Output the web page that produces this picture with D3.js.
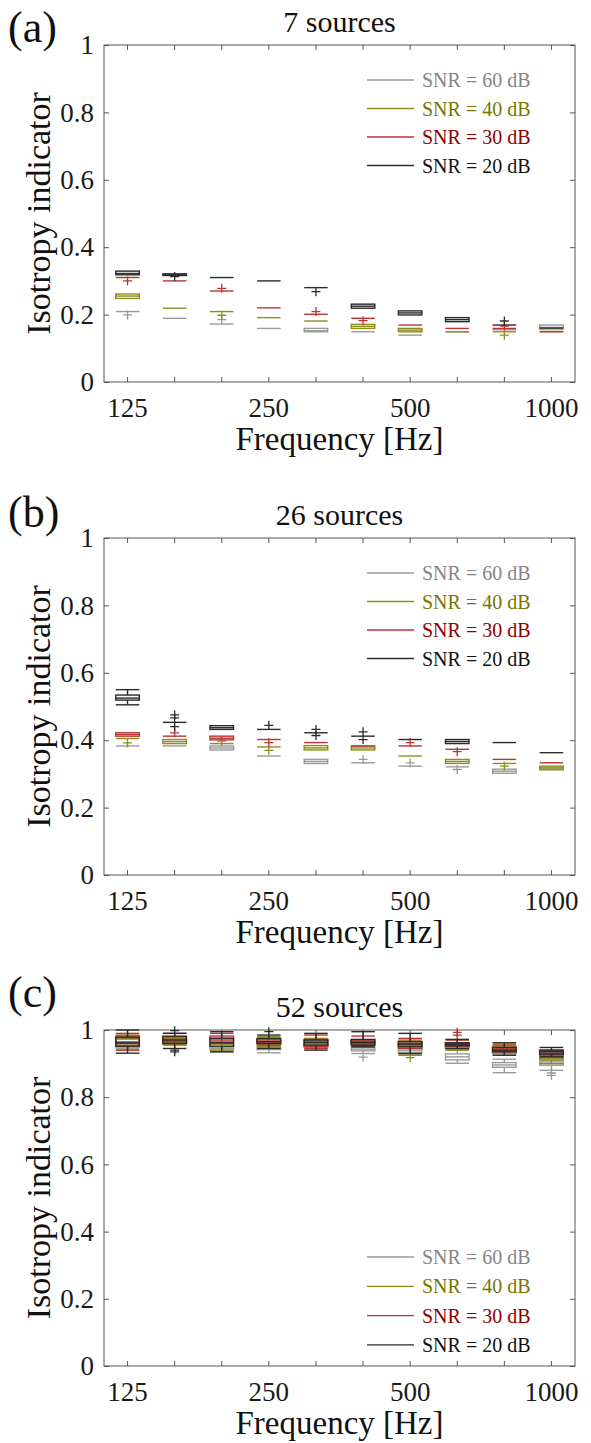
<!DOCTYPE html>
<html>
<head>
<meta charset="utf-8">
<script src="https://cdn.jsdelivr.net/npm/d3@7"></script>
<style>
  body { margin: 0; background: #fff; }
  svg { display: block; }
  svg text { font-family: "Liberation Serif", "Times New Roman", serif; }
</style>
</head>
<body>
<div id="chart"></div>
<script>
// 1/3-octave bands and which of them carry a label
const freqs = ["125", "160", "200", "250", "315", "400", "500", "630", "800", "1000"];
const labelledFreqs = ["125", "250", "500", "1000"];
const yTicks = [0, 0.2, 0.4, 0.6, 0.8, 1];
const snrLabels = ["SNR = 60 dB", "SNR = 40 dB", "SNR = 30 dB", "SNR = 20 dB"];
const panelTitles = ["7 sources", "26 sources", "52 sources"];
const panelTags = ["(a)", "(b)", "(c)"];

// each box: [whiskerLow, q1, median, q3, whiskerHigh], or one number when it collapses
// outliers: [bandIndex, value]
const boxesA60 = [0.209, 0.189, 0.172, 0.159, [0.149, 0.149, 0.152, 0.159, 0.159], 0.149, 0.139, 0.149, 0.155, [0.157, 0.157, 0.162, 0.169, 0.169]];
const outliersA60 = [[0, 0.199], [2, 0.185]];
const boxesA40 = [[0.248, 0.248, 0.255, 0.261, 0.261], 0.219, 0.209, 0.191, 0.181, [0.159, 0.159, 0.165, 0.171, 0.171], [0.149, 0.149, 0.154, 0.159, 0.159], 0.149, 0.149, 0.150];
const outliersA40 = [[2, 0.198], [8, 0.139]];
const boxesA30 = [0.310, 0.300, 0.270, 0.220, 0.201, 0.189, 0.169, 0.159, 0.159, 0.149];
const outliersA30 = [[0, 0.300], [2, 0.278], [4, 0.209], [5, 0.182], [8, 0.166]];
const boxesA20 = [[0.318, 0.318, 0.322, 0.329, 0.329], [0.316, 0.316, 0.318, 0.321, 0.321], 0.310, 0.300, 0.280, [0.219, 0.219, 0.225, 0.231, 0.231], [0.199, 0.199, 0.205, 0.211, 0.211], [0.179, 0.179, 0.185, 0.191, 0.191], 0.169, 0.160];
const outliersA20 = [[1, 0.313], [4, 0.268], [8, 0.181]];

const boxesB60 = [0.383, 0.383, [0.371, 0.371, 0.377, 0.383, 0.383], 0.353, [0.331, 0.331, 0.337, 0.343, 0.343], 0.333, 0.323, 0.321, [0.302, 0.302, 0.308, 0.314, 0.314], 0.315];
const outliersB60 = [[5, 0.343], [6, 0.333], [7, 0.313]];
const boxesB40 = [0.405, [0.390, 0.390, 0.396, 0.402, 0.402], 0.390, 0.380, [0.371, 0.371, 0.377, 0.384, 0.384], [0.371, 0.371, 0.377, 0.383, 0.383], 0.353, [0.331, 0.331, 0.337, 0.343, 0.343], 0.331, [0.312, 0.312, 0.318, 0.323, 0.323]];
const outliersB40 = [[0, 0.392], [2, 0.397], [3, 0.370], [8, 0.323]];
const boxesB30 = [[0.412, 0.412, 0.417, 0.422, 0.422], 0.412, [0.401, 0.401, 0.406, 0.412, 0.412], 0.402, 0.393, 0.383, 0.383, 0.373, 0.343, 0.333];
const outliersB30 = [[1, 0.422], [3, 0.393], [6, 0.393], [7, 0.366]];
const boxesB20 = [[0.505, 0.519, 0.525, 0.534, 0.550], 0.453, [0.432, 0.432, 0.437, 0.443, 0.443], 0.432, 0.422, 0.412, 0.402, [0.390, 0.390, 0.396, 0.402, 0.402], 0.393, 0.363];
const outliersB20 = [[1, 0.475], [1, 0.466], [1, 0.440], [3, 0.444], [4, 0.432], [4, 0.414], [5, 0.425], [5, 0.402]];

const boxesC60 = [[0.945, 0.955, 0.965, 0.972, 0.98], [0.955, 0.96, 0.968, 0.975, 0.98], [0.935, 0.94, 0.945, 0.95, 0.96], [0.932, 0.942, 0.947, 0.952, 0.955], [0.945, 0.95, 0.955, 0.96, 0.965], [0.93, 0.938, 0.943, 0.948, 0.955], [0.925, 0.932, 0.938, 0.944, 0.95], [0.901, 0.911, 0.92, 0.929, 0.94], [0.873, 0.889, 0.896, 0.903, 0.913], [0.88, 0.895, 0.9, 0.905, 0.91]];
const outliersC60 = [[5, 0.919], [9, 0.872], [9, 0.865]];
const boxesC40 = [[0.94, 0.955, 0.965, 0.975, 0.985], [0.955, 0.958, 0.963, 0.968, 0.975], [0.94, 0.95, 0.958, 0.965, 0.975], [0.95, 0.957, 0.965, 0.972, 0.98], [0.95, 0.955, 0.965, 0.97, 0.975], [0.95, 0.955, 0.96, 0.965, 0.97], [0.925, 0.945, 0.952, 0.96, 0.97], [0.94, 0.945, 0.95, 0.955, 0.96], [0.925, 0.931, 0.94, 0.95, 0.958], [0.9, 0.911, 0.916, 0.921, 0.93]];
const outliersC40 = [[6, 0.918]];
const boxesC30 = [[0.94, 0.95, 0.96, 0.982, 0.99], [0.96, 0.965, 0.972, 0.982, 0.99], [0.96, 0.97, 0.975, 0.982, 0.99], [0.955, 0.96, 0.965, 0.97, 0.975], [0.945, 0.95, 0.962, 0.972, 0.985], [0.955, 0.96, 0.965, 0.97, 0.982], [0.945, 0.955, 0.96, 0.966, 0.975], [0.945, 0.952, 0.957, 0.962, 0.97], [0.935, 0.94, 0.944, 0.948, 0.955], [0.92, 0.925, 0.93, 0.935, 0.94]];
const outliersC30 = [[7, 0.985], [7, 0.993]];
const boxesC20 = [[0.931, 0.952, 0.962, 0.978, 1.0], [0.945, 0.96, 0.97, 0.98, 0.99], [0.935, 0.952, 0.962, 0.975, 0.995], [0.945, 0.96, 0.965, 0.975, 0.985], [0.94, 0.955, 0.963, 0.97, 0.99], [0.95, 0.955, 0.963, 0.972, 0.995], [0.93, 0.95, 0.958, 0.965, 0.99], [0.945, 0.953, 0.958, 0.962, 0.972], [0.925, 0.935, 0.94, 0.948, 0.962], [0.92, 0.928, 0.935, 0.94, 0.948]];
const outliersC20 = [[1, 0.998], [1, 0.94], [1, 0.935], [3, 0.995]];

const lineColors = ["#9a9a9a", "#8e8e1c", "#bb3434", "#2b2b2b"];
const textColors = ["#858585", "#767600", "#8e0000", "#111111"];

const W = 591, H = 1443;
const svg = d3.select("#chart").append("svg")
  .attr("width", W).attr("height", H);
svg.append("rect").attr("width", W).attr("height", H).attr("fill", "#fff");

const plotLeft = 104, plotRight = 575;

const panels = [
  { top: 45, bottom: 382, tagY: 42, series: [[boxesA60, outliersA60], [boxesA40, outliersA40], [boxesA30, outliersA30], [boxesA20, outliersA20]], legendTop: true },
  { top: 538, bottom: 875, tagY: 527, series: [[boxesB60, outliersB60], [boxesB40, outliersB40], [boxesB30, outliersB30], [boxesB20, outliersB20]], legendTop: true },
  { top: 1030, bottom: 1366, tagY: 1007, series: [[boxesC60, outliersC60], [boxesC40, outliersC40], [boxesC30, outliersC30], [boxesC20, outliersC20]], legendTop: false }
];

panels.forEach((p, pi) => drawPanel(p, pi));

function drawPanel(p, pi) {
  const x = d3.scaleBand().domain(freqs).range([plotLeft, plotRight]).padding(0);
  const y = d3.scaleLinear().domain([0, 1]).range([p.bottom, p.top]);
  const bw = x.bandwidth();
  const half = bw * 0.25;
  const cx = f => x(f) + bw / 2;

  const g = svg.append("g");

  // axes, ticks pointing inward
  const bottomAxis = g.append("g")
    .attr("transform", `translate(0,${p.bottom})`)
    .call(d3.axisBottom(x).tickSizeInner(-5).tickSizeOuter(0).tickPadding(16)
      .tickFormat(d => labelledFreqs.includes(d) ? d : ""));
  g.append("g")
    .attr("transform", `translate(0,${p.top})`)
    .call(d3.axisTop(x).tickSizeInner(-5).tickSizeOuter(0).tickFormat(""));
  const leftAxis = g.append("g")
    .attr("transform", `translate(${plotLeft},0)`)
    .call(d3.axisLeft(y).tickValues(yTicks).tickSizeInner(-5).tickSizeOuter(0).tickPadding(10)
      .tickFormat(d => String(d)));
  g.append("g")
    .attr("transform", `translate(${plotRight},0)`)
    .call(d3.axisRight(y).tickValues(yTicks).tickSizeInner(-5).tickSizeOuter(0).tickFormat(""));

  g.selectAll(".domain").remove();
  g.selectAll(".tick line").attr("stroke", "#555");
  [bottomAxis, leftAxis].forEach(a => {
    a.attr("font-family", null).attr("font-size", null);
    a.selectAll("text").attr("font-size", 27).attr("fill", "#1a1a1a");
  });

  g.append("rect")
    .attr("x", plotLeft).attr("y", p.top)
    .attr("width", plotRight - plotLeft).attr("height", p.bottom - p.top)
    .attr("fill", "none").attr("stroke", "#555").attr("stroke-width", 1);

  // boxes, drawn 60 dB first so 20 dB lies on top
  p.series.forEach(([boxes, outliers], si) => {
    const col = lineColors[si];
    const sg = g.append("g").attr("stroke", col).attr("fill", "none").attr("stroke-width", 1.4);
    boxes.forEach((b, i) => {
      const v = typeof b === "number" ? [b, b, b, b, b] : b;
      const [lo, q1, med, q3, hi] = v;
      const c = cx(freqs[i]);
      if (hi > q3) sg.append("line").attr("x1", c).attr("x2", c).attr("y1", y(hi)).attr("y2", y(q3));
      if (lo < q1) sg.append("line").attr("x1", c).attr("x2", c).attr("y1", y(q1)).attr("y2", y(lo));
      if (hi > q3) sg.append("line").attr("x1", c - half).attr("x2", c + half).attr("y1", y(hi)).attr("y2", y(hi));
      if (lo < q1) sg.append("line").attr("x1", c - half).attr("x2", c + half).attr("y1", y(lo)).attr("y2", y(lo));
      if (q3 > q1) {
        sg.append("rect").attr("x", c - half).attr("y", y(q3))
          .attr("width", 2 * half).attr("height", y(q1) - y(q3));
      }
      sg.append("line").attr("x1", c - half).attr("x2", c + half).attr("y1", y(med)).attr("y2", y(med));
    });
    outliers.forEach(([i, val]) => {
      sg.append("path")
        .attr("transform", `translate(${cx(freqs[i])},${y(val)})`)
        .attr("d", "M-4.5,0H4.5M0,-4.5V4.5")
        .attr("stroke-width", 1.3);
    });
  });

  // legend
  const rowYs = p.legendTop
    ? snrLabels.map((_, i) => p.top + 35 + i * 28.5)
    : snrLabels.map((_, i) => p.bottom - 109 + i * 29.3);
  const lg = g.append("g");
  snrLabels.forEach((lab, i) => {
    lg.append("line")
      .attr("x1", 367).attr("x2", 414)
      .attr("y1", rowYs[i]).attr("y2", rowYs[i])
      .attr("stroke", lineColors[i]).attr("stroke-width", 1.3);
    lg.append("text")
      .attr("x", 422).attr("y", rowYs[i]).attr("dy", "0.35em")
      .attr("font-size", 20).attr("fill", textColors[i])
      .text(lab);
  });

  // titles and labels
  g.append("text")
    .attr("x", (plotLeft + plotRight) / 2).attr("y", p.top - 13)
    .attr("text-anchor", "middle").attr("font-size", 30).attr("fill", "#111")
    .text(panelTitles[pi]);
  g.append("text")
    .attr("x", 8).attr("y", p.tagY)
    .attr("font-size", 44).attr("fill", "#111")
    .text(panelTags[pi]);
  g.append("text")
    .attr("x", (plotLeft + plotRight) / 2).attr("y", p.bottom + 68)
    .attr("text-anchor", "middle").attr("font-size", 33).attr("fill", "#111")
    .text("Frequency [Hz]");
  g.append("text")
    .attr("transform", `translate(50,${(p.top + p.bottom) / 2}) rotate(-90)`)
    .attr("text-anchor", "middle").attr("font-size", 34).attr("fill", "#111")
    .text("Isotropy indicator");
}
</script>
</body>
</html>
